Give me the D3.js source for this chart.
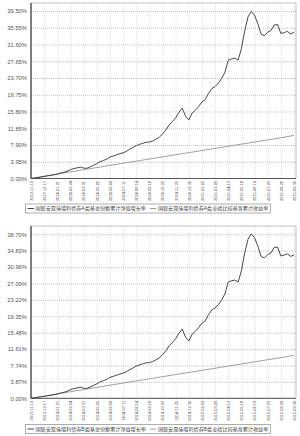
<!DOCTYPE html>
<html>
<head>
<meta charset="utf-8">
<script src="https://cdn.jsdelivr.net/npm/d3@7"></script>
<style>
  body { margin: 0; background: #fff; }
  svg { display: block; font-family: "Liberation Sans", "Noto Sans CJK SC", sans-serif; }
</style>
</head>
<body>
<script>
// 横轴日期标签
const tickLabels = ["2013-11-13", "2013-12-17", "2014-01-21", "2014-02-24", "2014-03-31", "2014-05-05",
  "2014-06-09", "2014-07-11", "2014-08-14", "2014-09-18", "2014-10-22", "2014-11-25", "2014-12-30",
  "2015-02-02", "2015-03-09", "2015-04-13", "2015-05-18", "2015-06-19", "2015-07-23", "2015-08-26", "2015-09-30"];

// A类累计净值增长率 (%)
const fundA = [0.00, 0.10, 0.22, 0.35, 0.48, 0.62, 0.74, 0.88, 1.05, 1.28, 1.45, 1.70, 2.10, 2.35, 2.50, 2.70,
  2.45, 2.40, 2.75, 3.10, 3.50, 3.95, 4.25, 4.55, 5.05, 5.30, 5.55, 5.85, 6.05, 6.40, 6.90, 7.30,
  7.75, 8.05, 8.30, 8.55, 8.60, 8.85, 9.25, 9.70, 10.50, 11.40, 12.60, 13.40, 14.30, 15.60, 16.60, 14.70,
  13.80, 15.40, 16.10, 17.00, 18.05, 18.60, 20.10, 21.20, 21.70, 22.50, 23.60, 25.10, 27.90, 28.20, 28.40, 27.90,
  30.60, 34.80, 38.10, 39.40, 38.50, 36.50, 34.00, 33.70, 34.50, 34.90, 36.20, 36.30, 34.20, 34.40, 34.70, 34.10, 34.50];

// B类累计净值增长率 (%)
const fundB = [0.00, 0.10, 0.21, 0.33, 0.46, 0.60, 0.71, 0.85, 1.01, 1.24, 1.41, 1.65, 2.05, 2.29, 2.44, 2.63,
  2.38, 2.33, 2.67, 3.02, 3.41, 3.86, 4.15, 4.45, 4.94, 5.19, 5.43, 5.73, 5.92, 6.27, 6.76, 7.15,
  7.60, 7.89, 8.14, 8.38, 8.42, 8.67, 9.06, 9.50, 10.29, 11.18, 12.37, 13.16, 14.05, 15.34, 16.33, 14.44,
  13.53, 15.11, 15.80, 16.69, 17.73, 18.27, 19.75, 20.84, 21.33, 22.11, 23.20, 24.68, 27.44, 27.73, 27.92, 27.42,
  30.09, 34.25, 37.52, 38.80, 37.90, 35.92, 33.44, 33.13, 33.91, 34.30, 35.58, 35.68, 33.60, 33.79, 34.08, 33.49, 33.85];

// 业绩比较基准累计收益率 (%)
const bench = [0.00, 0.52, 1.04, 1.56, 2.07, 2.58, 3.09, 3.60, 4.10, 4.60, 5.10, 5.60, 6.10, 6.60, 7.10,
  7.60, 8.10, 8.60, 9.10, 9.60, 10.15];

// 纵轴刻度
const yTicksTop = [0.00, 3.95, 7.90, 11.85, 15.80, 19.75, 23.70, 27.65, 31.60, 35.55, 39.50];
const yTicksBottom = [0.00, 3.87, 7.74, 11.61, 15.48, 19.35, 23.22, 27.09, 30.96, 34.83, 38.70];

const legendTop = ["国联安双佳增利债券A类基金份额累计净值增长率", "国联安双佳增利债券A类业绩比较基准累计收益率"];
const legendBottom = ["国联安双佳增利债券B类基金份额累计净值增长率", "国联安双佳增利债券B类业绩比较基准累计收益率"];

const svg = d3.select("body").append("svg")
    .attr("width", 300)
    .attr("height", 436);

const left = 31, right = 296;

function drawPanel(p) {
    const g = svg.append("g");
    const x = d3.scaleLinear().domain([0, tickLabels.length - 1]).range([left, 294]);
    const yTicks = p.yTicks;
    const y = d3.scaleLinear().domain([0, yTicks[yTicks.length - 1]]).range([p.zeroY, p.maxY]);

    // 边框
    g.append("rect")
        .attr("x", left).attr("y", p.top)
        .attr("width", right - left).attr("height", p.zeroY - p.top)
        .attr("fill", "none").attr("stroke", "#aaa").attr("stroke-width", 0.7);

    // 竖网格线
    const vg = g.append("g")
        .attr("transform", `translate(0,${p.top})`)
        .call(d3.axisBottom(x).tickValues(d3.range(1, tickLabels.length)).tickSize(p.zeroY - p.top).tickFormat(""));
    vg.select(".domain").remove();
    vg.selectAll("line").attr("stroke", "#c8c8c8").attr("stroke-width", 0.6).attr("stroke-dasharray", "1,1");

    // 横网格线
    const hg = g.append("g")
        .attr("transform", `translate(${right},0)`)
        .call(d3.axisLeft(y).tickValues(yTicks.slice(1)).tickSize(right - left).tickFormat(""));
    hg.select(".domain").remove();
    hg.selectAll("line").attr("stroke", "#9a9a9a").attr("stroke-width", 0.6).attr("stroke-dasharray", "1,1");

    // 纵轴标签
    const ya = g.append("g")
        .attr("transform", `translate(${left},0)`)
        .call(d3.axisLeft(y).tickValues(yTicks).tickSize(0).tickPadding(4).tickFormat(d => d.toFixed(2) + "%"));
    ya.select(".domain").remove();
    ya.selectAll("text").attr("font-size", 5.8).attr("fill", "#555").attr("font-family", null);

    // 横轴标签
    const xa = g.append("g")
        .attr("transform", `translate(0,${p.zeroY})`)
        .call(d3.axisBottom(x).tickValues(d3.range(tickLabels.length)).tickSize(0).tickFormat(i => tickLabels[i]));
    xa.select(".domain").remove();
    xa.selectAll("text")
        .attr("transform", "rotate(-90)")
        .attr("x", -2.5).attr("y", 0).attr("dy", "0.35em")
        .style("text-anchor", "end")
        .attr("font-size", 3.9).attr("fill", "#444").attr("font-family", null);

    // 坐标轴
    g.append("line").attr("x1", left).attr("x2", left).attr("y1", p.top).attr("y2", p.zeroY)
        .attr("stroke", "#555").attr("stroke-width", 1.4);
    g.append("line").attr("x1", left).attr("x2", right).attr("y1", p.zeroY).attr("y2", p.zeroY)
        .attr("stroke", "#555").attr("stroke-width", 1);

    // 曲线
    const line = arr => d3.line()
        .x((d, i) => x(i / (arr.length - 1) * (tickLabels.length - 1)))
        .y(d => y(d))(arr);

    g.append("path").attr("d", line(bench))
        .attr("fill", "none").attr("stroke", "#777").attr("stroke-width", 0.7);
    g.append("path").attr("d", line(p.fund))
        .attr("fill", "none").attr("stroke", "#333").attr("stroke-width", 0.9);

    // 图例
    const lg = g.append("g");
    const box = lg.append("rect")
        .attr("y", p.legendY - 4.5).attr("height", 9)
        .attr("fill", "#fff").attr("stroke", "#777").attr("stroke-width", 0.6);
    let cx = 27.5;
    const styles = [{ c: "#333", w: 0.9 }, { c: "#777", w: 0.7 }];
    p.legend.forEach((t, k) => {
        lg.append("line")
            .attr("x1", cx).attr("x2", cx + 6.5)
            .attr("y1", p.legendY).attr("y2", p.legendY)
            .attr("stroke", styles[k].c).attr("stroke-width", styles[k].w);
        const tx = lg.append("text")
            .attr("x", cx + 8).attr("y", p.legendY).attr("dy", "0.36em")
            .attr("font-size", 5.1).attr("fill", "#444")
            .text(t);
        cx += 8 + tx.node().getComputedTextLength() + 4;
    });
    box.attr("x", 25.5).attr("width", cx - 2 - 25.5);
}

drawPanel({ top: 3, zeroY: 178.5, maxY: 11, yTicks: yTicksTop, fund: fundA, legend: legendTop, legendY: 208.5 });
drawPanel({ top: 226, zeroY: 398.3, maxY: 234.3, yTicks: yTicksBottom, fund: fundB, legend: legendBottom, legendY: 429 });
</script>
</body>
</html>
